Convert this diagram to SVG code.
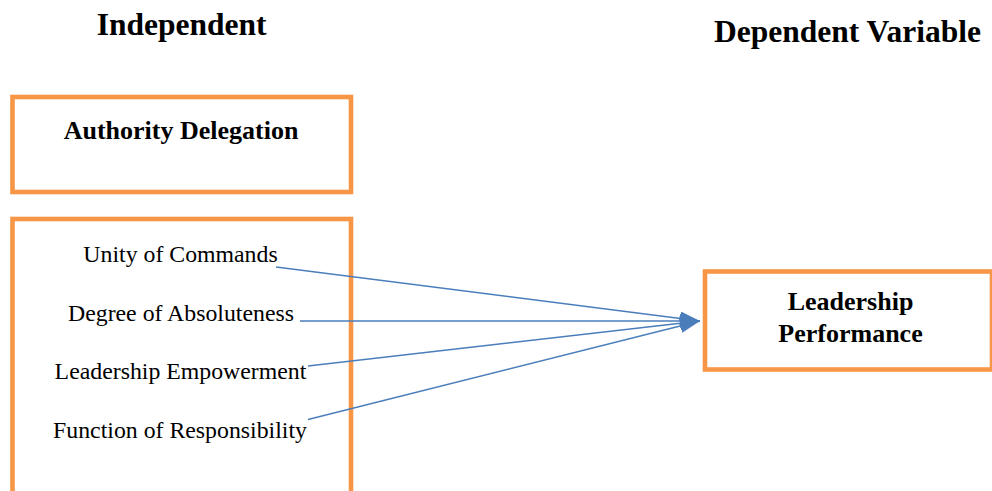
<svg xmlns="http://www.w3.org/2000/svg" width="992" height="491" viewBox="0 0 992 491">
  <defs>
    <style>
      .box { fill: #ffffff; stroke: #F79646; stroke-width: 4.6; }
      .head { font-family: "Liberation Serif", "Times New Roman", serif; font-weight: bold; font-size: 31.5px; fill: #000; text-anchor: middle; }
      .label { font-family: "Liberation Serif", "Times New Roman", serif; font-weight: bold; font-size: 26px; fill: #000; text-anchor: middle; }
      .item { font-family: "Liberation Serif", "Times New Roman", serif; font-size: 23.8px; fill: #000; text-anchor: middle; }
      .link { stroke: #4A7EBB; stroke-width: 1.5; fill: none; marker-end: url(#arrow); }
    </style>
    <marker id="arrow" markerUnits="userSpaceOnUse" markerWidth="20" markerHeight="14" refX="20" refY="7" orient="auto" viewBox="0 0 20 14">
      <path d="M0,0 L20,7 L0,14 z" fill="#4A7EBB"/>
    </marker>
  </defs>

  <!-- column headings -->
  <text class="head" x="181.7" y="35">Independent</text>
  <text class="head" x="847.5" y="41.7">Dependent Variable</text>

  <!-- independent variable title box -->
  <g id="authority-delegation">
    <rect class="box" x="12.5" y="97" width="338.5" height="95"/>
    <text class="label" x="181" y="139">Authority Delegation</text>
  </g>

  <!-- indicator list box (runs past the bottom edge) -->
  <g id="indicators">
    <rect class="box" x="12.5" y="219" width="338.5" height="300"/>
    <text class="item" x="180.5" y="262">Unity of Commands</text>
    <text class="item" x="181" y="321">Degree of Absoluteness</text>
    <text class="item" x="180.5" y="379">Leadership Empowerment</text>
    <text class="item" x="180" y="438">Function of Responsibility</text>
  </g>

  <!-- dependent variable box (right edge runs to the page edge) -->
  <g id="leadership-performance">
    <rect class="box" x="705" y="271.5" width="287" height="98"/>
    <text class="label" x="850.5" y="310">Leadership</text>
    <text class="label" x="850.5" y="341.7">Performance</text>
  </g>

  <!-- connectors -->
  <g id="connectors">
    <line class="link" x1="276" y1="267" x2="700" y2="321"/>
    <line class="link" x1="300" y1="321" x2="700" y2="321"/>
    <line class="link" x1="308" y1="366" x2="700" y2="321"/>
    <line class="link" x1="308" y1="419.5" x2="700" y2="321"/>
  </g>
</svg>
